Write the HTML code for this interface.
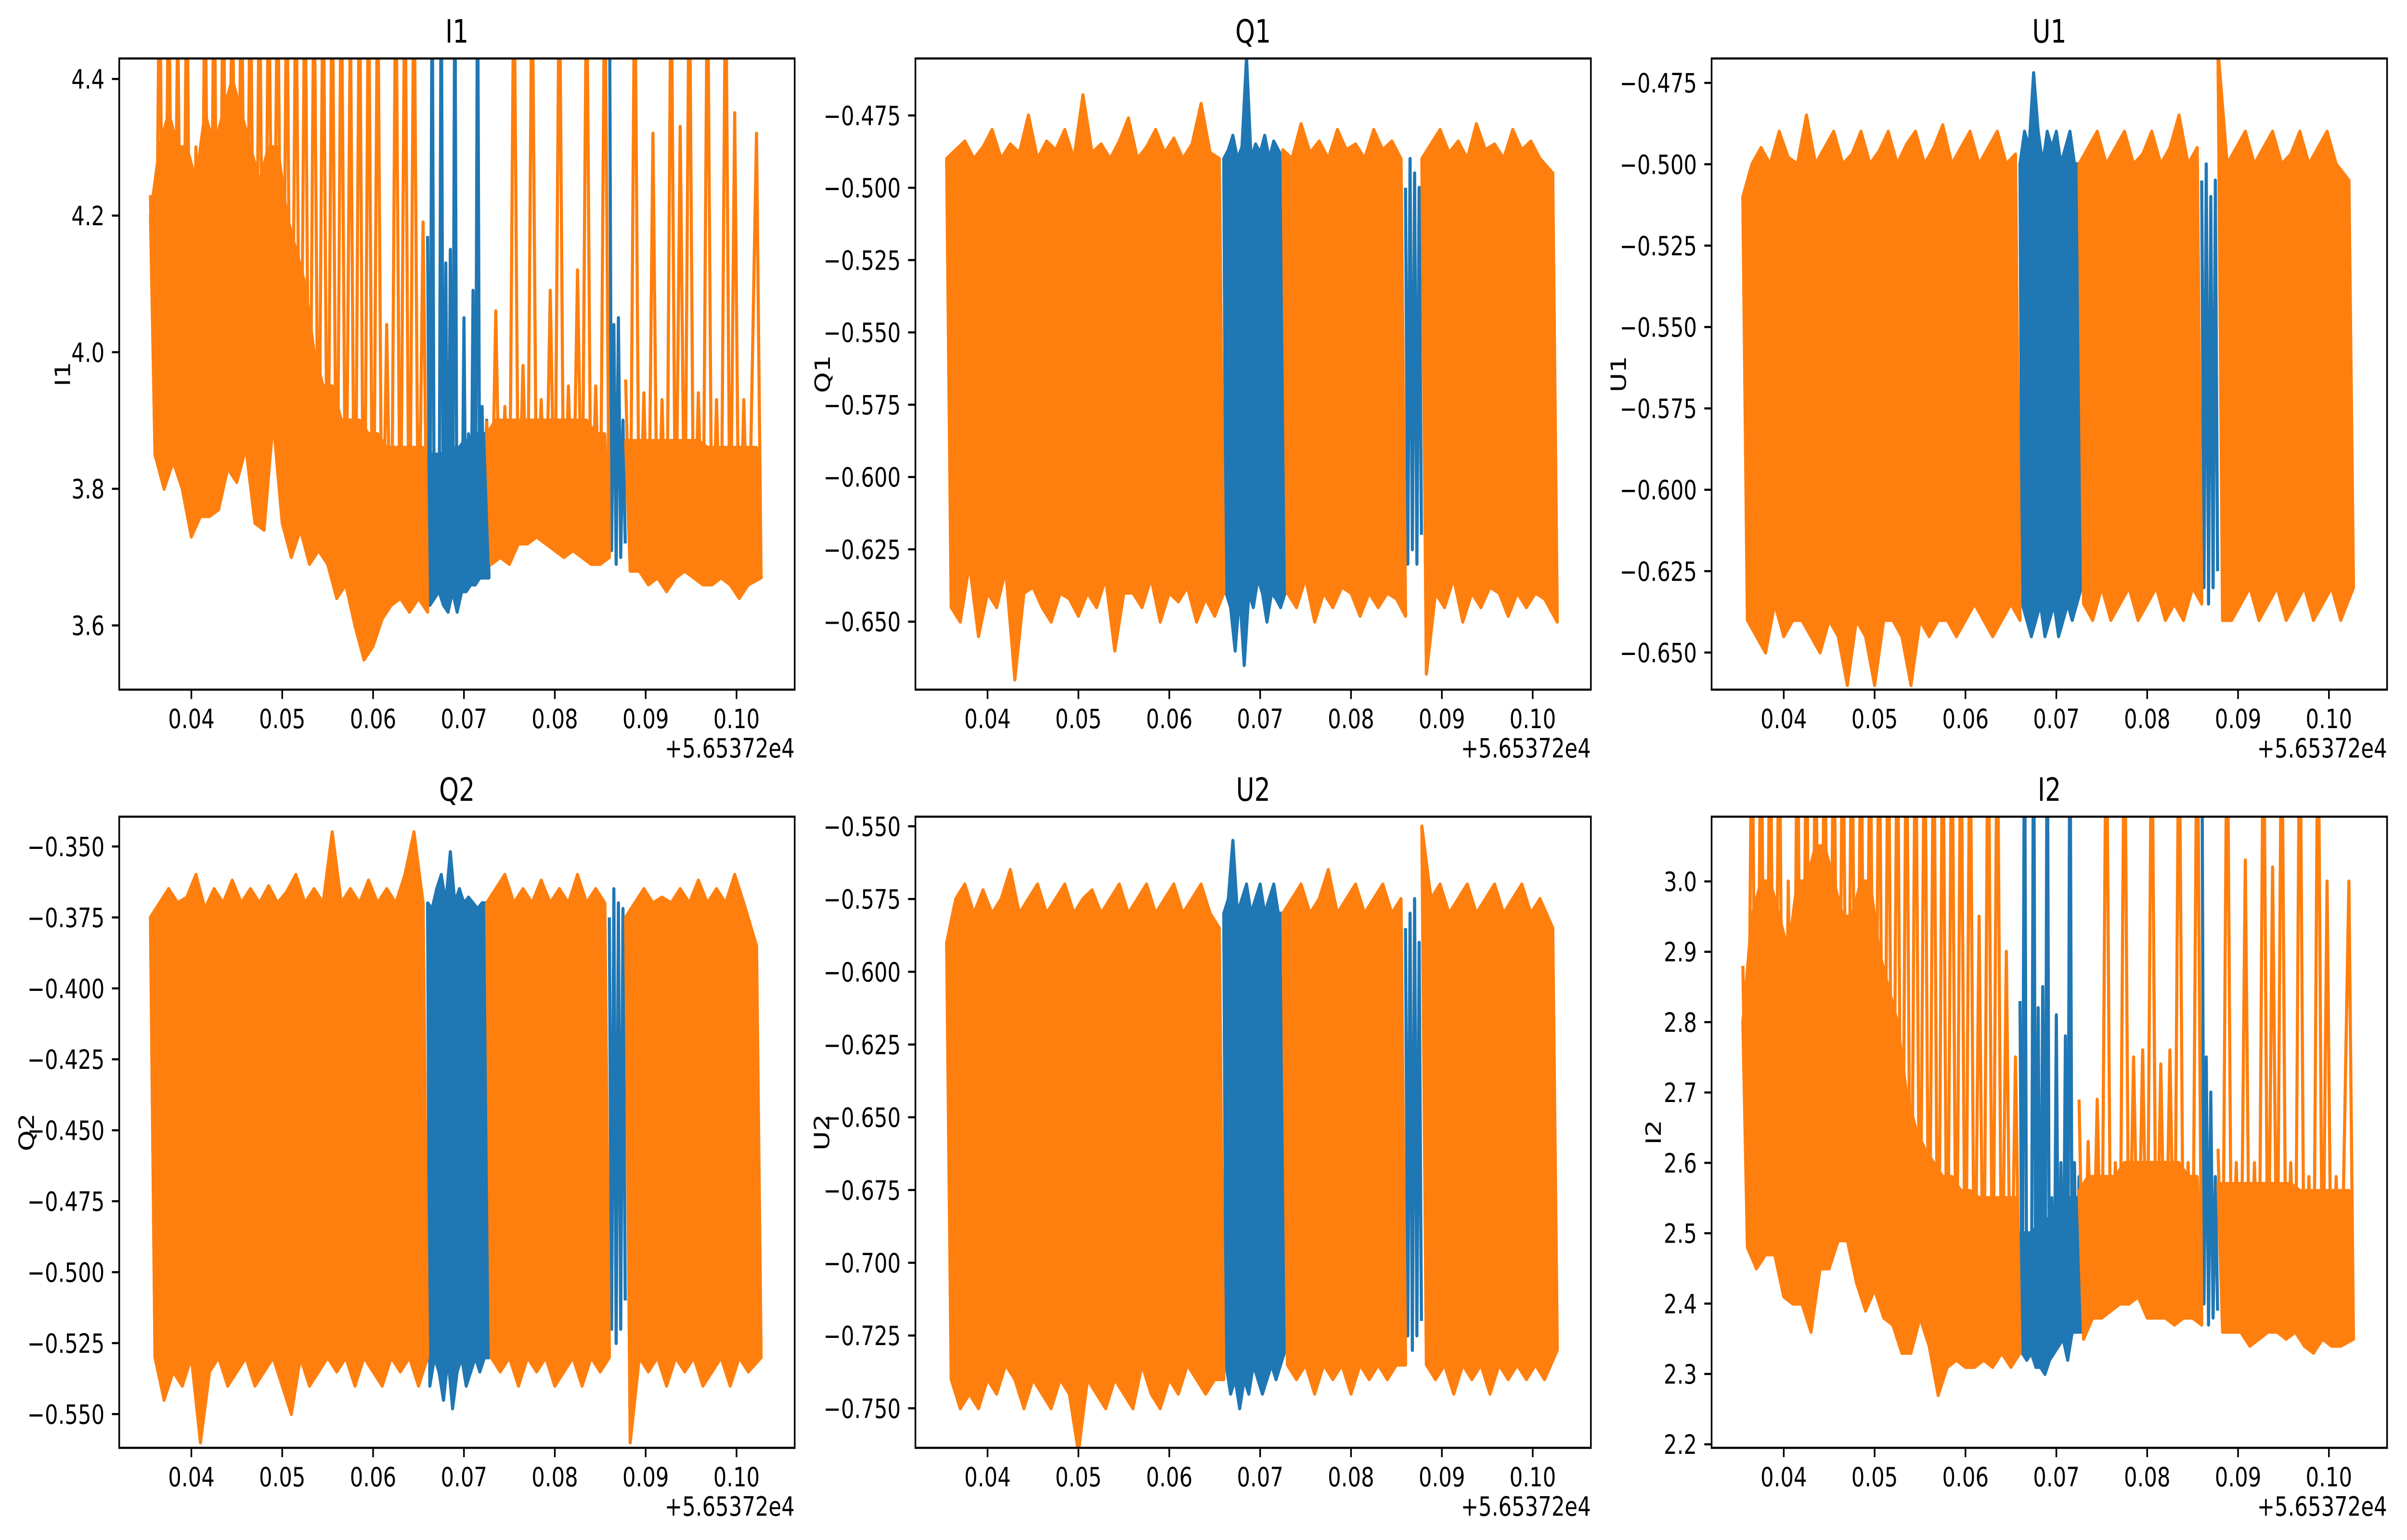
<!DOCTYPE html>
<html><head><meta charset="utf-8"><title>Stokes time series</title>
<style>html,body{margin:0;padding:0;background:#fff;overflow:hidden;width:100%;height:100%}svg{display:block;width:100vw;height:100vh}text{font-family:"DejaVu Sans","Liberation Sans",sans-serif;fill:#000}</style>
</head><body>
<svg id="fig" viewBox="0 0 6400 3200" preserveAspectRatio="none" xmlns="http://www.w3.org/2000/svg"></svg>
<script>
const xTickValues = [0.04,0.05,0.06,0.07,0.08,0.09,0.10];
const xTickLabels = ["0.04","0.05","0.06","0.07","0.08","0.09","0.10"];
const xOffsetLabel = "+5.65372e4";
const xDomain = [0.03206,0.1064];
const orangeTimes = [0.0355,0.0365,0.0375,0.0385,0.0395,0.0405,0.0415,0.0425,0.0435,0.0445,0.0455,0.0465,0.0475,0.0485,0.0495,0.0505,0.0515,0.0525,0.0535,0.0545,0.0555,0.0565,0.0575,0.0585,0.0595,0.0605,0.0615,0.0625,0.0635,0.0645,0.0655,
 0.0725,0.0735,0.0745,0.0755,0.0765,0.0775,0.0785,0.0795,0.0805,0.0815,0.0825,0.0835,0.0845,0.0855,
 0.0878,0.0888,0.0898,0.0908,0.0918,0.0928,0.0938,0.0948,0.0958,0.0968,0.0978,0.0988,0.0998,0.1008,0.1022];
const orangeSegments = [[0,30],[31,44],[45,59]];
const blueTimes = [0.066,0.0665,0.067,0.0675,0.068,0.0685,0.069,0.0695,0.07,0.0705,0.071,0.0715,0.072,0.0725];
const blueTimes2 = [0.086,0.0865,0.087,0.0875];

const titles = ["I1","Q1","U1","Q2","U2","I2"];
const yDomains = [[3.506,4.43],[-0.6735,-0.4553],[-0.6614,-0.4675],[-0.5619,-0.3395],[-0.7636,-0.5467],[2.195,3.092]];
const yTicks = [
 [3.6,3.8,4.0,4.2,4.4],
 [-0.65,-0.625,-0.6,-0.575,-0.55,-0.525,-0.5,-0.475],
 [-0.65,-0.625,-0.6,-0.575,-0.55,-0.525,-0.5,-0.475],
 [-0.55,-0.525,-0.5,-0.475,-0.45,-0.425,-0.4,-0.375,-0.35],
 [-0.75,-0.725,-0.7,-0.675,-0.65,-0.625,-0.6,-0.575,-0.55],
 [2.2,2.3,2.4,2.5,2.6,2.7,2.8,2.9,3.0]];
const yTickLabels = [
 ["3.6","3.8","4.0","4.2","4.4"],
 ["\u22120.650","\u22120.625","\u22120.600","\u22120.575","\u22120.550","\u22120.525","\u22120.500","\u22120.475"],
 ["\u22120.650","\u22120.625","\u22120.600","\u22120.575","\u22120.550","\u22120.525","\u22120.500","\u22120.475"],
 ["\u22120.550","\u22120.525","\u22120.500","\u22120.475","\u22120.450","\u22120.425","\u22120.400","\u22120.375","\u22120.350"],
 ["\u22120.750","\u22120.725","\u22120.700","\u22120.675","\u22120.650","\u22120.625","\u22120.600","\u22120.575","\u22120.550"],
 ["2.2","2.3","2.4","2.5","2.6","2.7","2.8","2.9","3.0"]];

// I1
const i1OrangeHi = [4.23,4.6,4.6,4.5,4.6,4.3,4.6,4.6,4.6,4.6,4.6,4.6,4.6,4.6,4.6,4.6,4.6,4.6,4.6,4.6,4.6,4.6,4.5,4.6,4.6,4.6,4.04,4.6,4.6,4.6,4.19,
 3.9,4.06,3.92,4.6,3.98,4.6,3.93,4.09,4.6,3.95,4.12,4.6,3.95,4.6,
 3.96,4.6,3.94,4.32,3.93,4.6,4.33,4.6,3.94,4.6,3.93,4.6,4.35,3.93,4.32];
const i1OrangeCore = [4.2,4.3,4.35,4.3,4.3,4.25,4.35,4.3,4.35,4.4,4.35,4.3,4.25,4.3,4.3,4.2,4.15,4.1,4.0,3.95,3.95,3.9,3.9,3.9,3.88,3.88,3.86,3.86,3.86,3.86,3.86,
 3.88,3.9,3.9,3.9,3.9,3.9,3.9,3.9,3.9,3.9,3.9,3.9,3.88,3.88,
 3.87,3.87,3.87,3.87,3.87,3.87,3.87,3.87,3.87,3.86,3.86,3.86,3.86,3.86,3.86];
const i1OrangeLo = [3.85,3.8,3.84,3.8,3.73,3.76,3.76,3.77,3.83,3.81,3.86,3.75,3.74,3.9,3.75,3.7,3.74,3.69,3.71,3.69,3.64,3.66,3.6,3.55,3.57,3.61,3.63,3.64,3.62,3.64,3.62,
 3.69,3.7,3.69,3.72,3.72,3.73,3.72,3.71,3.7,3.71,3.7,3.69,3.69,3.7,
 3.68,3.68,3.66,3.67,3.65,3.67,3.68,3.67,3.66,3.66,3.67,3.66,3.64,3.66,3.67];
const i1BlueHi = [4.17,4.6,3.85,4.6,4.13,4.15,4.6,3.86,4.05,3.88,4.09,4.6,3.92,3.9];
const i1BlueCore = [3.85,3.85,3.85,3.85,3.86,3.86,3.86,3.86,3.87,3.87,3.88,3.88,3.88,3.88];
const i1BlueLo = [3.63,3.64,3.65,3.63,3.62,3.65,3.62,3.65,3.65,3.66,3.66,3.67,3.67,3.67];
const i1Blue2Hi = [4.6,4.04,4.05,3.9];
const i1Blue2Lo = [3.71,3.69,3.70,3.72];
// Q1
const q1OrangeHi = [-0.49,-0.487,-0.484,-0.49,-0.486,-0.48,-0.49,-0.485,-0.488,-0.475,-0.49,-0.484,-0.487,-0.48,-0.49,-0.468,-0.488,-0.485,-0.49,-0.484,-0.476,-0.49,-0.486,-0.48,-0.488,-0.483,-0.49,-0.485,-0.471,-0.488,-0.49,
 -0.487,-0.49,-0.478,-0.488,-0.484,-0.49,-0.48,-0.487,-0.485,-0.49,-0.48,-0.487,-0.484,-0.49,
 -0.49,-0.485,-0.48,-0.488,-0.484,-0.49,-0.478,-0.487,-0.485,-0.49,-0.48,-0.487,-0.484,-0.49,-0.495];
const q1OrangeLo = [-0.645,-0.65,-0.63,-0.655,-0.64,-0.645,-0.632,-0.67,-0.64,-0.638,-0.645,-0.65,-0.64,-0.642,-0.648,-0.64,-0.645,-0.635,-0.66,-0.64,-0.64,-0.645,-0.635,-0.65,-0.64,-0.643,-0.638,-0.65,-0.642,-0.648,-0.64,
 -0.64,-0.645,-0.635,-0.65,-0.64,-0.645,-0.638,-0.64,-0.648,-0.64,-0.645,-0.64,-0.642,-0.648,
 -0.668,-0.64,-0.645,-0.635,-0.65,-0.64,-0.645,-0.638,-0.64,-0.648,-0.64,-0.645,-0.64,-0.642,-0.65];
const q1BlueHi = [-0.49,-0.487,-0.482,-0.49,-0.486,-0.455,-0.49,-0.485,-0.488,-0.482,-0.49,-0.484,-0.487,-0.49];
const q1BlueLo = [-0.64,-0.645,-0.66,-0.64,-0.665,-0.64,-0.645,-0.635,-0.64,-0.65,-0.64,-0.642,-0.645,-0.64];
const q1Blue2Hi = [-0.5,-0.49,-0.495,-0.5];
const q1Blue2Lo = [-0.63,-0.625,-0.63,-0.62];
// U1
const u1OrangeHi = [-0.51,-0.5,-0.495,-0.5,-0.49,-0.498,-0.5,-0.485,-0.5,-0.495,-0.49,-0.5,-0.497,-0.49,-0.5,-0.496,-0.49,-0.5,-0.494,-0.49,-0.5,-0.495,-0.488,-0.5,-0.495,-0.49,-0.5,-0.495,-0.49,-0.5,-0.497,
 -0.5,-0.495,-0.49,-0.5,-0.495,-0.49,-0.5,-0.497,-0.49,-0.5,-0.495,-0.485,-0.5,-0.495,
 -0.465,-0.5,-0.495,-0.49,-0.5,-0.495,-0.49,-0.5,-0.497,-0.49,-0.5,-0.495,-0.49,-0.5,-0.505];
const u1OrangeLo = [-0.64,-0.645,-0.65,-0.635,-0.645,-0.64,-0.64,-0.645,-0.65,-0.64,-0.645,-0.66,-0.64,-0.645,-0.66,-0.64,-0.64,-0.645,-0.66,-0.64,-0.645,-0.64,-0.64,-0.645,-0.64,-0.635,-0.64,-0.645,-0.64,-0.635,-0.64,
 -0.635,-0.64,-0.63,-0.64,-0.635,-0.63,-0.64,-0.635,-0.63,-0.64,-0.635,-0.64,-0.63,-0.635,
 -0.64,-0.64,-0.635,-0.63,-0.64,-0.635,-0.63,-0.64,-0.635,-0.63,-0.64,-0.635,-0.63,-0.64,-0.63];
const u1BlueHi = [-0.5,-0.49,-0.495,-0.472,-0.49,-0.5,-0.49,-0.495,-0.49,-0.5,-0.495,-0.49,-0.5,-0.5];
const u1BlueLo = [-0.635,-0.64,-0.645,-0.64,-0.635,-0.645,-0.64,-0.635,-0.645,-0.64,-0.635,-0.64,-0.635,-0.63];
const u1Blue2Hi = [-0.505,-0.5,-0.51,-0.505];
const u1Blue2Lo = [-0.63,-0.635,-0.63,-0.625];
// Q2
const q2OrangeHi = [-0.375,-0.37,-0.365,-0.37,-0.368,-0.36,-0.372,-0.365,-0.37,-0.362,-0.37,-0.365,-0.37,-0.364,-0.37,-0.366,-0.36,-0.37,-0.365,-0.37,-0.345,-0.37,-0.365,-0.37,-0.362,-0.37,-0.365,-0.37,-0.36,-0.345,-0.37,
 -0.37,-0.365,-0.36,-0.37,-0.365,-0.37,-0.362,-0.37,-0.365,-0.37,-0.36,-0.37,-0.365,-0.37,
 -0.375,-0.37,-0.365,-0.37,-0.368,-0.37,-0.365,-0.37,-0.362,-0.37,-0.365,-0.37,-0.36,-0.37,-0.385];
const q2OrangeLo = [-0.53,-0.545,-0.535,-0.54,-0.53,-0.56,-0.535,-0.53,-0.54,-0.535,-0.53,-0.54,-0.535,-0.53,-0.54,-0.55,-0.53,-0.54,-0.535,-0.53,-0.535,-0.53,-0.54,-0.53,-0.535,-0.54,-0.53,-0.535,-0.53,-0.54,-0.53,
 -0.53,-0.535,-0.53,-0.54,-0.53,-0.535,-0.53,-0.54,-0.535,-0.53,-0.54,-0.53,-0.535,-0.53,
 -0.56,-0.53,-0.535,-0.53,-0.54,-0.53,-0.535,-0.53,-0.54,-0.535,-0.53,-0.54,-0.53,-0.535,-0.53];
const q2BlueHi = [-0.37,-0.372,-0.365,-0.36,-0.37,-0.352,-0.37,-0.365,-0.37,-0.368,-0.37,-0.372,-0.37,-0.37];
const q2BlueLo = [-0.54,-0.53,-0.535,-0.545,-0.53,-0.548,-0.535,-0.53,-0.54,-0.535,-0.53,-0.535,-0.53,-0.53];
const q2Blue2Hi = [-0.375,-0.365,-0.37,-0.372];
const q2Blue2Lo = [-0.52,-0.525,-0.52,-0.51];
// U2
const u2OrangeHi = [-0.59,-0.575,-0.57,-0.58,-0.572,-0.58,-0.575,-0.565,-0.58,-0.575,-0.57,-0.58,-0.575,-0.57,-0.58,-0.575,-0.572,-0.58,-0.575,-0.57,-0.58,-0.575,-0.57,-0.58,-0.575,-0.57,-0.58,-0.575,-0.57,-0.58,-0.585,
 -0.58,-0.575,-0.57,-0.58,-0.575,-0.565,-0.58,-0.575,-0.57,-0.58,-0.575,-0.57,-0.58,-0.575,
 -0.55,-0.575,-0.57,-0.58,-0.575,-0.57,-0.58,-0.575,-0.57,-0.58,-0.575,-0.57,-0.58,-0.575,-0.585];
const u2OrangeLo = [-0.74,-0.75,-0.745,-0.75,-0.74,-0.745,-0.735,-0.74,-0.75,-0.74,-0.745,-0.75,-0.74,-0.745,-0.765,-0.74,-0.745,-0.75,-0.74,-0.745,-0.75,-0.735,-0.745,-0.75,-0.74,-0.745,-0.735,-0.74,-0.745,-0.74,-0.74,
 -0.735,-0.74,-0.735,-0.745,-0.735,-0.74,-0.735,-0.745,-0.735,-0.74,-0.735,-0.74,-0.735,-0.735,
 -0.735,-0.74,-0.735,-0.745,-0.735,-0.74,-0.735,-0.745,-0.735,-0.74,-0.735,-0.74,-0.735,-0.74,-0.73];
const u2BlueHi = [-0.58,-0.575,-0.555,-0.58,-0.575,-0.57,-0.58,-0.575,-0.57,-0.58,-0.575,-0.57,-0.58,-0.58];
const u2BlueLo = [-0.735,-0.745,-0.74,-0.75,-0.74,-0.745,-0.735,-0.74,-0.745,-0.74,-0.735,-0.74,-0.735,-0.73];
const u2Blue2Hi = [-0.585,-0.58,-0.575,-0.59];
const u2Blue2Lo = [-0.725,-0.73,-0.725,-0.72];
// I2
const i2OrangeHi = [2.88,3.3,3.3,3.3,3.3,3.0,3.3,3.3,3.3,3.3,3.3,3.3,3.3,3.3,3.3,3.3,3.3,3.3,3.3,3.3,3.3,3.3,3.3,3.3,3.3,3.3,2.95,3.3,3.3,2.9,2.75,
 2.69,2.63,2.69,3.3,2.6,3.3,2.75,2.76,3.3,2.74,2.76,3.3,2.6,3.3,
 2.62,3.3,2.6,3.03,2.6,3.3,3.02,3.3,2.6,3.3,2.58,3.3,3.0,2.58,3.0];
const i2OrangeCore = [2.8,2.95,3.0,3.0,2.95,2.9,3.0,3.0,3.05,3.05,3.0,2.95,2.95,3.0,3.0,2.9,2.85,2.8,2.7,2.65,2.62,2.6,2.58,2.58,2.56,2.56,2.55,2.55,2.55,2.55,2.55,
 2.56,2.58,2.58,2.58,2.58,2.6,2.6,2.6,2.6,2.6,2.6,2.6,2.58,2.58,
 2.57,2.57,2.57,2.57,2.57,2.57,2.57,2.57,2.57,2.56,2.56,2.56,2.56,2.56,2.56];
const i2OrangeLo = [2.48,2.45,2.47,2.47,2.41,2.4,2.4,2.36,2.45,2.45,2.49,2.49,2.43,2.39,2.42,2.38,2.37,2.33,2.33,2.38,2.34,2.27,2.31,2.32,2.31,2.31,2.32,2.31,2.33,2.31,2.33,
 2.35,2.38,2.38,2.39,2.4,2.4,2.41,2.38,2.38,2.38,2.37,2.38,2.38,2.37,
 2.36,2.36,2.36,2.34,2.35,2.36,2.36,2.35,2.36,2.34,2.33,2.35,2.34,2.34,2.35];
const i2BlueHi = [2.83,3.3,2.5,3.3,2.82,2.85,3.3,2.55,2.81,2.6,2.78,3.3,2.6,2.58];
const i2BlueCore = [2.5,2.5,2.5,2.5,2.52,2.52,2.52,2.52,2.53,2.53,2.54,2.55,2.55,2.55];
const i2BlueLo = [2.33,2.32,2.33,2.31,2.31,2.3,2.32,2.33,2.34,2.35,2.32,2.36,2.36,2.36];
const i2Blue2Hi = [3.3,2.75,2.7,2.58];
const i2Blue2Lo = [2.4,2.37,2.38,2.39];

const panelSeries = [
 [i1OrangeHi,i1OrangeLo,i1BlueHi,i1BlueLo,i1Blue2Hi,i1Blue2Lo,i1OrangeCore,i1BlueCore],
 [q1OrangeHi,q1OrangeLo,q1BlueHi,q1BlueLo,q1Blue2Hi,q1Blue2Lo,q1OrangeHi,q1BlueHi],
 [u1OrangeHi,u1OrangeLo,u1BlueHi,u1BlueLo,u1Blue2Hi,u1Blue2Lo,u1OrangeHi,u1BlueHi],
 [q2OrangeHi,q2OrangeLo,q2BlueHi,q2BlueLo,q2Blue2Hi,q2Blue2Lo,q2OrangeHi,q2BlueHi],
 [u2OrangeHi,u2OrangeLo,u2BlueHi,u2BlueLo,u2Blue2Hi,u2Blue2Lo,u2OrangeHi,u2BlueHi],
 [i2OrangeHi,i2OrangeLo,i2BlueHi,i2BlueLo,i2Blue2Hi,i2Blue2Lo,i2OrangeCore,i2BlueCore]];

const NS = "http://www.w3.org/2000/svg";
const svg = document.getElementById('fig');
const lefts = [317,2434,4551], tops = [121.5,1697];
const W = 1796, H = 1311.5;
const ylabelOff = [151,247,248,247,249,155];
function mk(tag, attrs, parent){const e=document.createElementNS(NS,tag);for(const k in attrs)e.setAttribute(k,attrs[k]);(parent||svg).appendChild(e);return e;}

titles.forEach((title, p) => {
  const L = lefts[p%3], T = tops[Math.floor(p/3)];
  const yd = yDomains[p];
  const sx = v => L + (v - xDomain[0])/(xDomain[1]-xDomain[0])*W;
  const sy = v => T + H - (v - yd[0])/(yd[1]-yd[0])*H;
  const g = mk('g', {});
  
  
  const cp = mk('clipPath', {id:'clip'+p}, g);
  mk('rect', {x:L, y:T, width:W, height:H}, cp);
  const plot = mk('g', {'clip-path':'url(#clip'+p+')'}, g);
  const [oh, ol, bh, bl, b2h, b2l, oc, bc] = panelSeries[p];
  function zig(times, hi, lo, half, a, b){
    let pts = [];
    for (let i=a;i<=b;i++){
      pts.push(sx(times[i]).toFixed(1)+','+sy(hi[i]).toFixed(1));
      pts.push(sx(times[i]+half).toFixed(1)+','+sy(lo[i]).toFixed(1));
    }
    return pts.join(' ');
  }
  function band(times, hi, lo, half, a, b){
    let top = [], bot = [];
    for (let i=a;i<=b;i++){
      top.push(sx(times[i]).toFixed(1)+','+sy(hi[i]).toFixed(1));
      bot.unshift(sx(times[i]+half).toFixed(1)+','+sy(lo[i]).toFixed(1));
    }
    return top.concat(bot).join(' ');
  }
  const bb = mk('polygon', {points: band(blueTimes, bc, bl, 0.00025, 0, blueTimes.length-1), fill:'#1f77b4', stroke:'#1f77b4', 'stroke-width':8.33, 'stroke-linejoin':'round'}, plot);
  
  
  const b1 = mk('polyline', {points: zig(blueTimes, bh, bl, 0.00025, 0, blueTimes.length-1), fill:'none', stroke:'#1f77b4', 'stroke-width':8.33, 'stroke-linejoin':'round'}, plot);
  
  
  const b2 = mk('polyline', {points: zig(blueTimes2, b2h, b2l, 0.00025, 0, blueTimes2.length-1), fill:'none', stroke:'#1f77b4', 'stroke-width':8.33, 'stroke-linejoin':'round'}, plot);
  
  
  orangeSegments.forEach(([a,b]) => {
    const ob = mk('polygon', {points: band(orangeTimes, oc, ol, 0.0005, a, b), fill:'#ff7f0e', stroke:'#ff7f0e', 'stroke-width':8.33, 'stroke-linejoin':'round'}, plot);
    
    
    const o = mk('polyline', {points: zig(orangeTimes, oh, ol, 0.0005, a, b), fill:'none', stroke:'#ff7f0e', 'stroke-width':8.33, 'stroke-linejoin':'round'}, plot);
    
    
  });
  const frame = mk('rect', {x:L, y:T, width:W, height:H, fill:'none', stroke:'#000', 'stroke-width':4.4}, g);
  
  
  xTickValues.forEach((v,i)=>{
    const x = sx(v);
    mk('line',{x1:x,x2:x,y1:T+H,y2:T+H+19.4,stroke:'#000','stroke-width':4.4},g);
    const t = mk('text',{x:x,y:T+H+80,'font-size':55.5,'text-anchor':'middle'},g);
    t.textContent = xTickLabels[i];
    
    
  });
  const off = mk('text',{x:L+W,y:T+H+141,'font-size':55.5,'text-anchor':'end'},g);
  off.textContent = xOffsetLabel;
  
  
  yTicks[p].forEach((v,i)=>{
    const y = sy(v);
    mk('line',{x1:L-19.4,x2:L,y1:y,y2:y,stroke:'#000','stroke-width':4.4},g);
    const t = mk('text',{x:L-39,y:y+20,'font-size':55.5,'text-anchor':'end'},g);
    t.textContent = yTickLabels[p][i];
    
    
  });
  const yl = mk('text',{x:0,y:0,'font-size':55.5,'text-anchor':'middle',transform:'translate('+(L-ylabelOff[p]+20)+','+(T+H/2)+') rotate(-90)'},g);
  yl.textContent = title;
  
  
  const tt = mk('text',{x:L+W/2,y:T-33,'font-size':66.7,'text-anchor':'middle'},g);
  tt.textContent = title;
  
  
});
</script>
</body></html>
